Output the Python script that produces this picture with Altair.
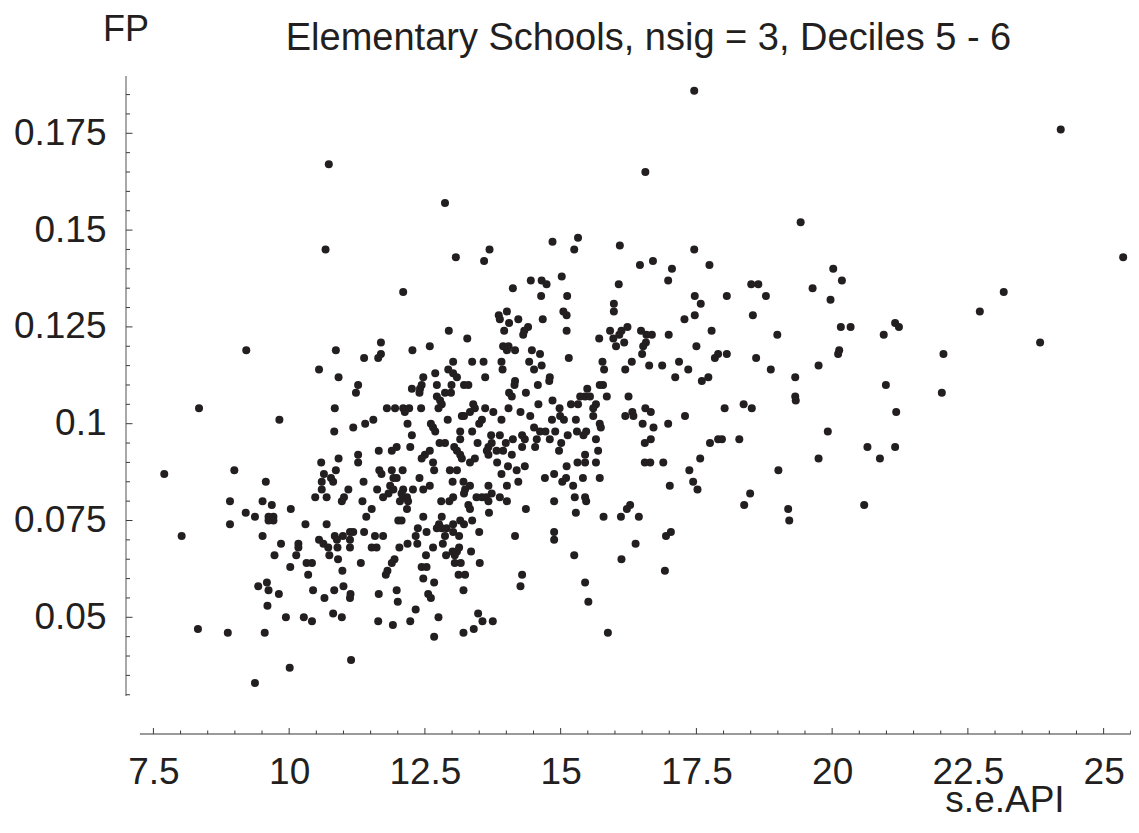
import altair as alt
import pandas as pd

# ---- data: (s.e.API, FP), grouped by region ----
top_pts = [(17.46, 0.186), (24.21, 0.176), (10.73, 0.167), (16.56, 0.165), (12.87, 0.157), (19.42, 0.152)]

left_upper = [(10.67, 0.145), (9.21, 0.119), (10.86, 0.119), (10.55, 0.114), (10.91, 0.112), (11.27, 0.110),
              (11.23, 0.108), (8.34, 0.104), (10.84, 0.104), (9.82, 0.101), (10.83, 0.098), (11.18, 0.099),
              (11.27, 0.092), (11.27, 0.090), (10.59, 0.090), (10.91, 0.091), (8.99, 0.088), (10.86, 0.088)]

left_lower = [(7.70, 0.087), (9.57, 0.085), (10.64, 0.087), (10.77, 0.086), (10.81, 0.085), (10.60, 0.085),
              (10.60, 0.083), (11.09, 0.083), (10.48, 0.081), (10.69, 0.081), (10.97, 0.080), (11.01, 0.081),
              (8.91, 0.080), (9.51, 0.080), (9.68, 0.079), (10.03, 0.078), (9.20, 0.077), (9.37, 0.076),
              (9.62, 0.076), (9.71, 0.076), (9.62, 0.075), (9.71, 0.075), (8.91, 0.074), (10.30, 0.074),
              (10.69, 0.074), (8.02, 0.071), (9.51, 0.071), (9.85, 0.069), (10.17, 0.069), (10.17, 0.068),
              (10.55, 0.070), (10.63, 0.069), (10.72, 0.068), (10.84, 0.071), (10.99, 0.071), (10.88, 0.070),
              (11.12, 0.072), (11.18, 0.072), (11.12, 0.070), (10.89, 0.068), (11.12, 0.068), (9.73, 0.066),
              (10.13, 0.066), (10.74, 0.066), (10.90, 0.065), (10.32, 0.064), (10.42, 0.064), (10.02, 0.063),
              (10.98, 0.062), (10.35, 0.061), (9.43, 0.058), (9.59, 0.059), (9.62, 0.057), (9.81, 0.056),
              (10.44, 0.057), (10.83, 0.057), (11.00, 0.058), (10.65, 0.055), (11.13, 0.056), (11.12, 0.055),
              (9.60, 0.053), (9.94, 0.050), (10.27, 0.050), (10.42, 0.049), (10.81, 0.051), (10.97, 0.050),
              (8.32, 0.047), (8.87, 0.046), (9.55, 0.046), (11.14, 0.039), (10.01, 0.037), (9.37, 0.033)]

mid_lower = [(11.66, 0.088), (11.70, 0.087), (11.89, 0.088), (12.09, 0.088), (12.40, 0.086), (12.67, 0.088),
             (12.96, 0.088), (13.09, 0.088), (13.91, 0.087), (14.19, 0.088), (14.71, 0.086), (14.88, 0.087),
             (15.10, 0.086), (15.03, 0.085), (15.23, 0.084), (11.37, 0.085), (11.92, 0.086), (11.98, 0.086),
             (11.86, 0.084), (11.92, 0.083), (11.83, 0.082), (11.73, 0.081), (12.10, 0.083), (12.07, 0.082),
             (12.17, 0.081), (12.04, 0.080), (12.19, 0.080), (12.10, 0.081), (12.28, 0.083), (12.47, 0.083),
             (12.59, 0.084), (11.62, 0.083), (13.01, 0.085), (13.21, 0.085), (13.33, 0.084), (13.24, 0.083),
             (13.22, 0.082), (13.67, 0.084), (13.73, 0.082), (14.01, 0.084), (14.22, 0.085), (13.45, 0.081),
             (13.55, 0.081), (13.63, 0.081), (13.67, 0.080), (13.88, 0.081), (14.01, 0.080), (12.80, 0.080),
             (12.95, 0.080), (13.02, 0.081), (11.35, 0.080), (13.30, 0.079), (13.33, 0.078), (11.52, 0.078),
             (12.17, 0.078), (13.68, 0.077), (14.36, 0.078), (14.88, 0.080), (15.26, 0.081), (15.28, 0.077),
             (11.42, 0.076), (12.47, 0.076), (12.81, 0.076), (12.01, 0.075), (12.07, 0.075), (13.37, 0.075),
             (12.76, 0.074), (12.81, 0.073), (12.72, 0.073), (13.02, 0.074), (13.15, 0.075), (13.22, 0.074),
             (12.90, 0.073), (12.37, 0.073), (11.38, 0.072), (11.58, 0.071), (11.73, 0.071), (12.53, 0.072),
             (12.33, 0.071), (12.87, 0.071), (13.02, 0.072), (13.13, 0.071), (13.50, 0.072), (14.16, 0.071),
             (14.88, 0.072), (14.88, 0.070), (11.52, 0.068), (11.61, 0.068), (12.03, 0.068), (12.18, 0.069),
             (12.36, 0.069), (12.65, 0.068), (12.83, 0.069), (13.01, 0.067), (13.13, 0.068), (13.09, 0.067),
             (12.89, 0.066), (13.05, 0.066), (13.35, 0.067), (12.52, 0.066), (15.25, 0.066), (11.32, 0.064),
             (11.94, 0.065), (11.89, 0.064), (13.05, 0.064), (13.16, 0.064), (13.51, 0.064), (12.44, 0.063),
             (12.53, 0.063), (11.81, 0.062), (11.78, 0.061), (13.12, 0.061), (13.24, 0.061), (14.29, 0.061),
             (12.47, 0.060), (12.67, 0.059), (14.26, 0.058), (11.98, 0.057), (13.21, 0.057), (11.65, 0.056),
             (12.56, 0.056), (12.61, 0.055), (12.00, 0.054), (12.33, 0.052), (12.75, 0.050), (13.48, 0.051),
             (11.64, 0.049), (11.91, 0.048), (12.23, 0.049), (13.56, 0.049), (13.75, 0.049), (13.40, 0.047),
             (13.21, 0.046), (12.67, 0.045)]

mid_upper = [(14.85, 0.147), (15.32, 0.148), (15.25, 0.145), (13.07, 0.143), (13.69, 0.145), (13.59, 0.142),
             (12.10, 0.134), (14.12, 0.135), (14.45, 0.137), (14.65, 0.137), (14.74, 0.136), (15.02, 0.138),
             (14.64, 0.133), (15.12, 0.133), (13.86, 0.128), (13.88, 0.127), (14.01, 0.129), (14.22, 0.127),
             (14.05, 0.126), (14.67, 0.127), (15.05, 0.129), (15.11, 0.128), (12.94, 0.124), (13.96, 0.124),
             (14.40, 0.125), (14.33, 0.124), (14.31, 0.123), (15.11, 0.124), (13.28, 0.122), (11.69, 0.121),
             (12.59, 0.120), (12.27, 0.119), (11.69, 0.118), (11.64, 0.117), (11.38, 0.117), (13.94, 0.120),
             (14.04, 0.120), (14.16, 0.119), (14.01, 0.119), (14.47, 0.119), (14.62, 0.118), (15.15, 0.117),
             (13.02, 0.116), (13.37, 0.116), (13.58, 0.116), (13.91, 0.116), (13.93, 0.114), (14.42, 0.116),
             (14.65, 0.115), (14.51, 0.114), (12.93, 0.114), (13.02, 0.113), (13.09, 0.112), (12.69, 0.113),
             (13.61, 0.112), (12.47, 0.112), (12.44, 0.110), (12.41, 0.109), (14.80, 0.112), (14.79, 0.111),
             (14.16, 0.111), (14.15, 0.110), (12.72, 0.110), (12.99, 0.110), (13.22, 0.110), (13.30, 0.110),
             (14.58, 0.110), (12.26, 0.109), (12.40, 0.108), (12.87, 0.108), (12.98, 0.108), (14.05, 0.108),
             (14.10, 0.107), (14.36, 0.108), (12.72, 0.107), (12.78, 0.106), (12.81, 0.105), (14.85, 0.106),
             (11.80, 0.104), (11.95, 0.104), (12.10, 0.104), (12.21, 0.104), (12.13, 0.103), (12.43, 0.104),
             (12.75, 0.104), (13.39, 0.105), (13.42, 0.104), (13.33, 0.103), (13.22, 0.102), (13.18, 0.102),
             (13.61, 0.104), (13.76, 0.103), (14.04, 0.104), (14.26, 0.103), (14.59, 0.105), (14.98, 0.104),
             (14.99, 0.102), (15.06, 0.101), (15.19, 0.105), (15.32, 0.105), (14.44, 0.102), (11.40, 0.100),
             (11.55, 0.101), (12.18, 0.100), (12.92, 0.101), (13.55, 0.101), (13.50, 0.100), (13.91, 0.101),
             (14.84, 0.101), (15.28, 0.101), (12.61, 0.100), (12.65, 0.099), (12.69, 0.098), (14.51, 0.099),
             (14.62, 0.098), (14.72, 0.098), (14.90, 0.098), (13.15, 0.098), (13.37, 0.098), (12.26, 0.097),
             (13.72, 0.097), (13.88, 0.097), (14.12, 0.096), (14.29, 0.097), (14.34, 0.096), (14.56, 0.096),
             (14.53, 0.094), (14.80, 0.096), (15.01, 0.095), (15.13, 0.097), (15.30, 0.098), (12.77, 0.095),
             (12.87, 0.095), (13.15, 0.096), (13.47, 0.095), (13.73, 0.095), (13.67, 0.094), (13.64, 0.093),
             (13.99, 0.095), (14.29, 0.094), (12.23, 0.094), (11.65, 0.093), (11.89, 0.093), (11.98, 0.094),
             (12.59, 0.093), (12.50, 0.092), (12.44, 0.091), (13.04, 0.094), (13.09, 0.093), (13.15, 0.092),
             (13.82, 0.093), (13.94, 0.093), (14.10, 0.092), (13.18, 0.091), (13.42, 0.091), (13.33, 0.090),
             (13.67, 0.092), (13.83, 0.090), (12.65, 0.090), (14.97, 0.093), (15.11, 0.089), (14.03, 0.089),
             (14.34, 0.089), (15.31, 0.090)]

right_upper = [(16.09, 0.146), (17.46, 0.145), (16.46, 0.141), (16.70, 0.142), (17.05, 0.140), (17.74, 0.141),
               (16.98, 0.137), (16.07, 0.136), (18.51, 0.136), (18.64, 0.136), (17.47, 0.133), (17.58, 0.131),
               (18.06, 0.133), (18.78, 0.133), (15.98, 0.131), (15.98, 0.129), (17.28, 0.127), (17.47, 0.128),
               (18.54, 0.128), (15.91, 0.124), (16.23, 0.125), (16.12, 0.124), (16.08, 0.123), (15.71, 0.122),
               (15.97, 0.122), (16.02, 0.120), (16.17, 0.121), (16.48, 0.124), (16.58, 0.123), (16.68, 0.123),
               (16.57, 0.121), (16.52, 0.120), (16.50, 0.118), (16.99, 0.123), (17.78, 0.124), (18.99, 0.123),
               (17.50, 0.120), (17.90, 0.118), (17.84, 0.117), (18.06, 0.118), (18.60, 0.117), (15.77, 0.116),
               (15.80, 0.114), (16.31, 0.116), (16.19, 0.114), (16.63, 0.115), (16.87, 0.115), (17.18, 0.116),
               (17.35, 0.114), (17.11, 0.112), (17.60, 0.111), (17.72, 0.112), (18.87, 0.114), (19.32, 0.112),
               (15.72, 0.110), (15.78, 0.110), (15.49, 0.109), (15.45, 0.107), (15.54, 0.107), (15.36, 0.107),
               (15.85, 0.107), (16.25, 0.107), (19.32, 0.107), (19.33, 0.106), (15.65, 0.105), (15.60, 0.104),
               (15.60, 0.102), (16.56, 0.104), (16.66, 0.103), (16.32, 0.103), (16.19, 0.102), (16.34, 0.102),
               (18.02, 0.104), (18.37, 0.105), (18.52, 0.104), (17.29, 0.102), (15.72, 0.100), (15.74, 0.099),
               (15.47, 0.098), (15.42, 0.097), (16.51, 0.100), (16.71, 0.099), (16.98, 0.100), (15.65, 0.096),
               (16.55, 0.095), (16.66, 0.096), (17.75, 0.095), (17.90, 0.096), (17.97, 0.096), (18.29, 0.096),
               (15.45, 0.092), (15.69, 0.093), (15.45, 0.090), (15.65, 0.090), (16.55, 0.090), (16.65, 0.090),
               (16.89, 0.090), (17.57, 0.091), (17.37, 0.088), (19.01, 0.088)]

right_lower = [(15.41, 0.086), (15.72, 0.086), (17.01, 0.084), (17.44, 0.085), (17.52, 0.083), (18.49, 0.082),
               (18.38, 0.079), (19.19, 0.078), (19.21, 0.075), (15.45, 0.081), (15.47, 0.080), (16.28, 0.079),
               (16.22, 0.078), (15.79, 0.076), (16.11, 0.076), (16.44, 0.076), (17.03, 0.072), (16.94, 0.071),
               (16.38, 0.069), (16.12, 0.065), (16.92, 0.062), (15.45, 0.059), (15.51, 0.054), (15.87, 0.046)]

far_right = [(25.36, 0.143), (20.02, 0.140), (20.18, 0.137), (19.64, 0.135), (19.97, 0.132), (23.16, 0.134),
             (22.72, 0.129), (20.16, 0.125), (20.34, 0.125), (21.16, 0.126), (21.23, 0.125), (20.95, 0.123),
             (23.83, 0.121), (20.13, 0.119), (20.11, 0.118), (22.05, 0.118), (19.75, 0.115), (20.99, 0.110),
             (22.02, 0.108), (21.18, 0.103), (19.92, 0.098), (20.65, 0.094), (21.16, 0.094), (19.75, 0.091),
             (20.88, 0.091), (20.59, 0.079)]

# ---- axes: ticks and labels ----
x_major = [7.5, 10, 12.5, 15, 17.5, 20, 22.5, 25]
x_minor = [8, 8.5, 9, 9.5, 10.5, 11, 11.5, 12, 13, 13.5, 14, 14.5, 15.5, 16, 16.5, 17,
           18, 18.5, 19, 19.5, 20.5, 21, 21.5, 22, 23, 23.5, 24, 24.5, 25.5]
y_major = [0.05, 0.075, 0.1, 0.125, 0.15, 0.175]
y_minor = [0.03, 0.035, 0.04, 0.045, 0.055, 0.06, 0.065, 0.07, 0.08, 0.085, 0.09, 0.095,
           0.105, 0.11, 0.115, 0.12, 0.13, 0.135, 0.14, 0.145, 0.155, 0.16, 0.165, 0.17, 0.18, 0.185]
x_domain = [6.995, 25.504]
y_domain = [0.01986, 0.1898]
x_axis_extent = [7.25, 25.5]
y_axis_extent = [0.0297, 0.1898]

title_text = "Elementary Schools, nsig = 3, Deciles 5 - 6"
x_title = "s.e.API"
y_title = "FP"

W, H = 1005, 658
FONT = "Liberation Sans"
INK = "#231f20"
LINE = "#7a7a7a"

pts = top_pts + left_upper + left_lower + mid_lower + mid_upper + right_upper + right_lower + far_right
df = pd.DataFrame(pts, columns=["se_api", "fp"])

xs = alt.Scale(domain=x_domain, nice=False, zero=False)
ys = alt.Scale(domain=y_domain, nice=False, zero=False)

label_expr = "'' + datum.value"
x_axis = alt.Axis(values=x_major, labelExpr=label_expr, domain=False, ticks=False, tickSize=0, grid=False,
                  labelFont=FONT, labelFontSize=37, labelColor=INK, labelPadding=20, labelFlush=False,
                  labelOverlap=False, title=None, orient="bottom")
y_axis = alt.Axis(values=y_major, labelExpr=label_expr, domain=False, ticks=False, tickSize=0, grid=False,
                  labelFont=FONT, labelFontSize=37, labelColor=INK, labelPadding=20, labelFlush=False,
                  labelOverlap=False, title=None, orient="left")

points = alt.Chart(df).mark_circle(size=64, color=INK, opacity=1).encode(
    x=alt.X("se_api:Q", scale=xs, axis=x_axis),
    y=alt.Y("fp:Q", scale=ys, axis=y_axis),
)

def yticks(vals, length):
    return alt.Chart(pd.DataFrame({"v": vals})).mark_rule(color="#3a3a3a", strokeWidth=1).encode(
        y=alt.Y("v:Q", scale=ys, axis=None), x=alt.value(0), x2=alt.value(length))

def xticks(vals, length):
    return alt.Chart(pd.DataFrame({"v": vals})).mark_rule(color="#3a3a3a", strokeWidth=1).encode(
        x=alt.X("v:Q", scale=xs, axis=None), y=alt.value(H), y2=alt.value(H - length))

y_line = alt.Chart(pd.DataFrame({"lo": [y_axis_extent[0]], "hi": [y_axis_extent[1]]})).mark_rule(
    color=LINE, strokeWidth=1.3).encode(
    y=alt.Y("lo:Q", scale=ys, axis=None), y2="hi:Q", x=alt.value(0))
x_line = alt.Chart(pd.DataFrame({"lo": [x_axis_extent[0]], "hi": [x_axis_extent[1]]})).mark_rule(
    color=LINE, strokeWidth=1.3).encode(
    x=alt.X("lo:Q", scale=xs, axis=None), x2="hi:Q", y=alt.value(H))

def text_layer(txt, x, y, size):
    return alt.Chart(pd.DataFrame({"t": [txt]})).mark_text(
        font=FONT, fontSize=size, color=INK, align="center", baseline="alphabetic").encode(
        text="t:N", x=alt.value(x), y=alt.value(y))

chart = alt.layer(
    points,
    y_line, x_line,
    yticks(y_major, 6.5), yticks(y_minor, 4),
    xticks(x_major, 6), xticks(x_minor, 3.5),
    text_layer(title_text, 522.5, -26, 38),
    text_layer(y_title, 0, -35, 36),
    text_layer(x_title, 879, 736, 37),
).resolve_axis(x="independent", y="independent").properties(
    width=W, height=H,
    autosize=alt.AutoSizeParams(type="none"),
    padding={"left": 118, "top": 68, "right": 0, "bottom": 86},
    background="white",
).configure_view(stroke=None)

chart.save("out.html", embed_options={"renderer": "svg", "actions": False})
